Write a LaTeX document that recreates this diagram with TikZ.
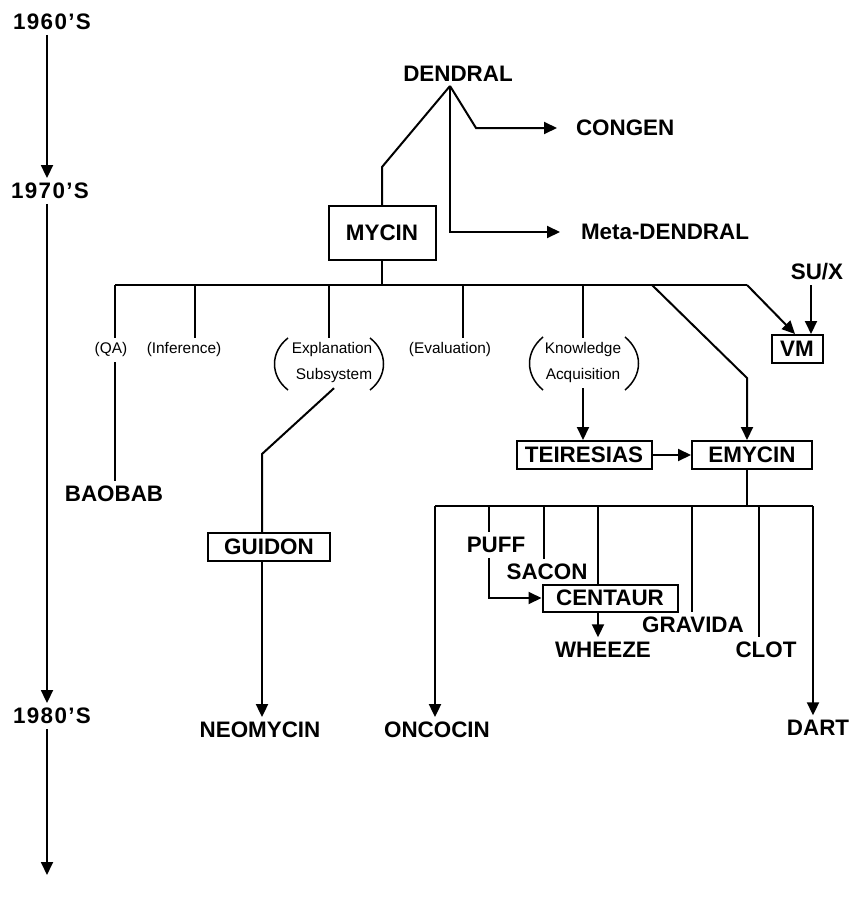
\documentclass[tikz,border=0pt]{standalone}
\usepackage{fontspec}
\setmainfont{Liberation Sans}
\usetikzlibrary{arrows.meta}

\begin{document}
\begin{tikzpicture}[x=0.5pt,y=-0.5pt,line width=1pt,
    >={Triangle[length=6.5pt,width=6pt]},
    prog/.style={inner sep=2pt,font=\bfseries\fontsize{11.2}{13}\selectfont},
    progbox/.style={prog,draw,minimum height=14pt},
    part/.style={inner sep=2pt,font=\fontsize{7.7}{9}\selectfont},
    paren/.style={line width=0.75pt}]
    \useasboundingbox (0,0) rectangle (853,904);

    % time line
    \coordinate (axis) at (47,0);
    \node[prog] (d60) at (52,22) {\addfontfeature{LetterSpace=6}1960'S};
    \node[prog] (d70) at (50,191) {\addfontfeature{LetterSpace=6}1970'S};
    \node[prog] (d80) at (52,716) {\addfontfeature{LetterSpace=6}1980'S};
    \coordinate (tend) at (47,875);
    \draw[->,line width=0.9pt] (axis |- d60.south) -- (axis |- d70.north);
    \draw[->,line width=0.9pt] (axis |- d70.south) -- (axis |- d80.north);
    \draw[->,line width=0.9pt] (axis |- d80.south) -- (tend);

    % DENDRAL
    \node[prog] (dendral) at (458,74) {DENDRAL};
    \coordinate (dj) at (450,86);
    \node[prog,anchor=west] (congen) at (571,128) {CONGEN};
    \node[prog,anchor=west] (meta) at (576,232) {Meta-DENDRAL};
    \node[progbox,minimum width=53.5pt,minimum height=27pt] (mycin) at (382,233) {MYCIN};
    \draw (dj) -- (382,167) -- (mycin.north);
    \draw[->,shorten >=7pt] (dj) -- (476,128) -- (congen.west);
    \draw[->,shorten >=8pt] (dj) |- (meta.west);

    % MYCIN and its parts
    \coordinate (bQA) at (115,285);
    \coordinate (bInf) at (195,285);
    \coordinate (bExp) at (329,285);
    \coordinate (bMy) at (382,285);
    \coordinate (bEval) at (463,285);
    \coordinate (bKA) at (583,285);
    \coordinate (bEmy) at (652,285);
    \coordinate (bVM) at (747,285);
    \draw (mycin) -- (bMy);
    \draw (bQA) -- (bVM);

    \node[part] (qa) at (111,350) {(QA)};
    \node[part] (infer) at (184,350) {(Inference)};
    \node[part] (expl) at (332,350) {Explanation};
    \node[part] (subsys) at (334,376) {Subsystem};
    \node[part] (eval) at (450,350) {(Evaluation)};
    \node[part] (know) at (583,350) {Knowledge};
    \node[part] (acq) at (583,376) {Acquisition};
    \draw[paren] (288,338) .. controls (270,352) and (270,376) .. (288,390);
    \draw[paren] (370,338) .. controls (388,352) and (388,376) .. (370,390);
    \draw[paren] (543,337) .. controls (525,352) and (525,375) .. (543,390);
    \draw[paren] (625,337) .. controls (643,352) and (643,375) .. (625,390);

    \draw (bQA) -- (bQA |- qa.north);
    \draw (bInf) -- (bInf |- infer.north);
    \draw (bExp) -- (bExp |- expl.north);
    \draw (bEval) -- (bEval |- eval.north);
    \draw (bKA) -- (know.north);

    \node[prog] (baobab) at (114,494) {BAOBAB};
    \draw (bQA |- qa.south) -- (bQA |- baobab.north);

    \node[progbox,minimum width=61pt] (guidon) at (269,547) {GUIDON};
    \node[prog] (neomycin) at (260,730) {NEOMYCIN};
    \coordinate (gK) at (262,454);
    \draw (subsys.south) -- (gK) -- (gK |- guidon.north);
    \draw[->] (gK |- guidon.south) -- (gK |- neomycin.north);

    \node[progbox,minimum width=67.5pt] (teiresias) at (584,455) {TEIRESIAS};
    \node[progbox,minimum width=60pt] (emycin) at (752,455) {EMYCIN};
    \coordinate (eX) at (747,378);
    \draw[->] (acq.south -| bKA) -- (bKA |- teiresias.north);
    \draw[->] (bEmy) -- (eX) -- (eX |- emycin.north);
    \draw[->] (teiresias) -- (emycin);

    \node[progbox,minimum width=25.5pt] (vm) at (797,349) {VM};
    \node[prog] (sux) at (817,272) {SU/X};
    \coordinate (vmin) at ([xshift=7pt]vm.north);
    \draw[->] (bVM) -- ([xshift=-1pt]vm.north);
    \draw[->] (vmin |- sux.south) -- (vmin);

    % EMYCIN systems
    \coordinate (cL) at (435,506);
    \coordinate (cPuff) at (489,506);
    \coordinate (cSac) at (544,506);
    \coordinate (cCen) at (598,506);
    \coordinate (cGra) at (692,506);
    \coordinate (cClot) at (759,506);
    \coordinate (cR) at (813,506);
    \draw (eX |- emycin.south) -- (eX |- cL);
    \draw (cL) -- (cR);

    \node[prog] (oncocin) at (437,730) {ONCOCIN};
    \node[prog] (puff) at (496,545) {PUFF};
    \node[prog] (sacon) at (547,572) {SACON};
    \node[progbox,minimum width=67.5pt,minimum height=13.5pt] (centaur) at (610,598) {CENTAUR};
    \node[prog] (wheeze) at (603,650) {WHEEZE};
    \node[prog] (gravida) at (693,625) {GRAVIDA};
    \node[prog] (clot) at (766,650) {CLOT};
    \node[prog] (dart) at (818,728) {DART};

    \draw[->] (cL) -- (cL |- oncocin.north);
    \draw (cPuff) -- (cPuff |- puff.north);
    \draw[->] (cPuff |- puff.south) |- (centaur.west);
    \draw (cSac) -- (cSac |- sacon.north);
    \draw (cCen) -- (cCen |- centaur.north);
    \draw[->] (cCen |- centaur.south) -- (cCen |- wheeze.north);
    \draw (cGra) -- (cGra |- gravida.north);
    \draw (cClot) -- (cClot |- clot.north);
    \draw[->] (cR) -- (cR |- dart.north);
\end{tikzpicture}
\end{document}
